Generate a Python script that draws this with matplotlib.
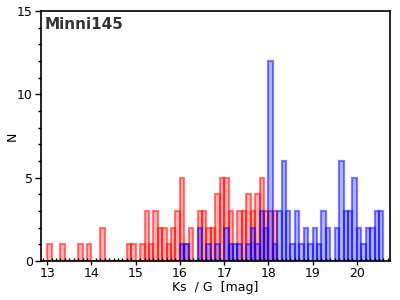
import numpy as np
import matplotlib
matplotlib.use('Agg')
import matplotlib.pyplot as plt
from matplotlib.ticker import MultipleLocator

# Ks histogram, 0.1 mag bins starting at 13.0
ks_start = 13.0
ks_counts = [1, 0, 0, 1, 0, 0, 0, 1, 0, 1,
             0, 0, 2, 0, 0, 0, 0, 0, 1, 1,
             0, 1, 3, 1, 3, 2, 2, 1, 2, 3,
             5, 1, 2, 0, 3, 3, 2, 2, 4, 5,
             5, 3, 0, 3, 3, 4, 3, 4, 5, 3,
             3, 3]

# G histogram, 0.1 mag bins starting at 16.0
g_start = 16.0
g_counts = [1, 1, 0, 0, 2, 0, 1, 0, 1, 0,
            2, 1, 1, 1, 0, 1, 2, 1, 3, 2,
            12, 1, 3, 6, 3, 1, 3, 1, 2, 1,
            2, 1, 3, 2, 0, 2, 6, 3, 3, 5,
            2, 1, 2, 2, 3, 3]

binw = 0.1
title = "Minni145"

ks_edges = ks_start + binw*np.arange(len(ks_counts))
g_edges = g_start + binw*np.arange(len(g_counts))

fig = plt.figure(figsize=(4, 3), dpi=100)
ax = fig.add_axes([0.1025, 0.13, 0.8725, 0.833])

ax.bar(ks_edges, ks_counts, width=binw, align='edge',
       facecolor=(1, 0, 0, 0.28), edgecolor=(1, 0, 0, 0.5), linewidth=1.6)
ax.bar(g_edges, g_counts, width=binw, align='edge',
       facecolor=(0, 0, 1, 0.28), edgecolor=(0, 0, 1, 0.5), linewidth=1.6)

ax.set_xlim(12.86, 20.75)
ax.set_ylim(0, 15)
ax.xaxis.set_major_locator(MultipleLocator(1))
ax.xaxis.set_minor_locator(MultipleLocator(0.1))
ax.yaxis.set_major_locator(MultipleLocator(5))
ax.yaxis.set_minor_locator(MultipleLocator(1))
ax.tick_params(axis='x', which='major', direction='out', length=3, width=1, labelsize=9, pad=1)
ax.tick_params(axis='x', which='minor', direction='in', length=2, width=1)
ax.tick_params(axis='y', which='major', direction='out', length=4, width=1, labelsize=9, pad=2)
ax.tick_params(axis='y', which='minor', direction='out', length=2, width=1)
for s in ax.spines.values():
    s.set_linewidth(1.2)

ax.set_xlabel("Ks  / G  [mag]", fontsize=9)
ax.xaxis.set_label_coords(0.5, -0.08)
ax.set_ylabel("N", fontsize=9)
ax.yaxis.set_label_coords(-0.065, 0.5)
ax.text(0.01, 0.975, title, transform=ax.transAxes, fontsize=11, fontweight='bold',
        color='#333333', va='top', ha='left')

fig.savefig("out.png", dpi=100)
